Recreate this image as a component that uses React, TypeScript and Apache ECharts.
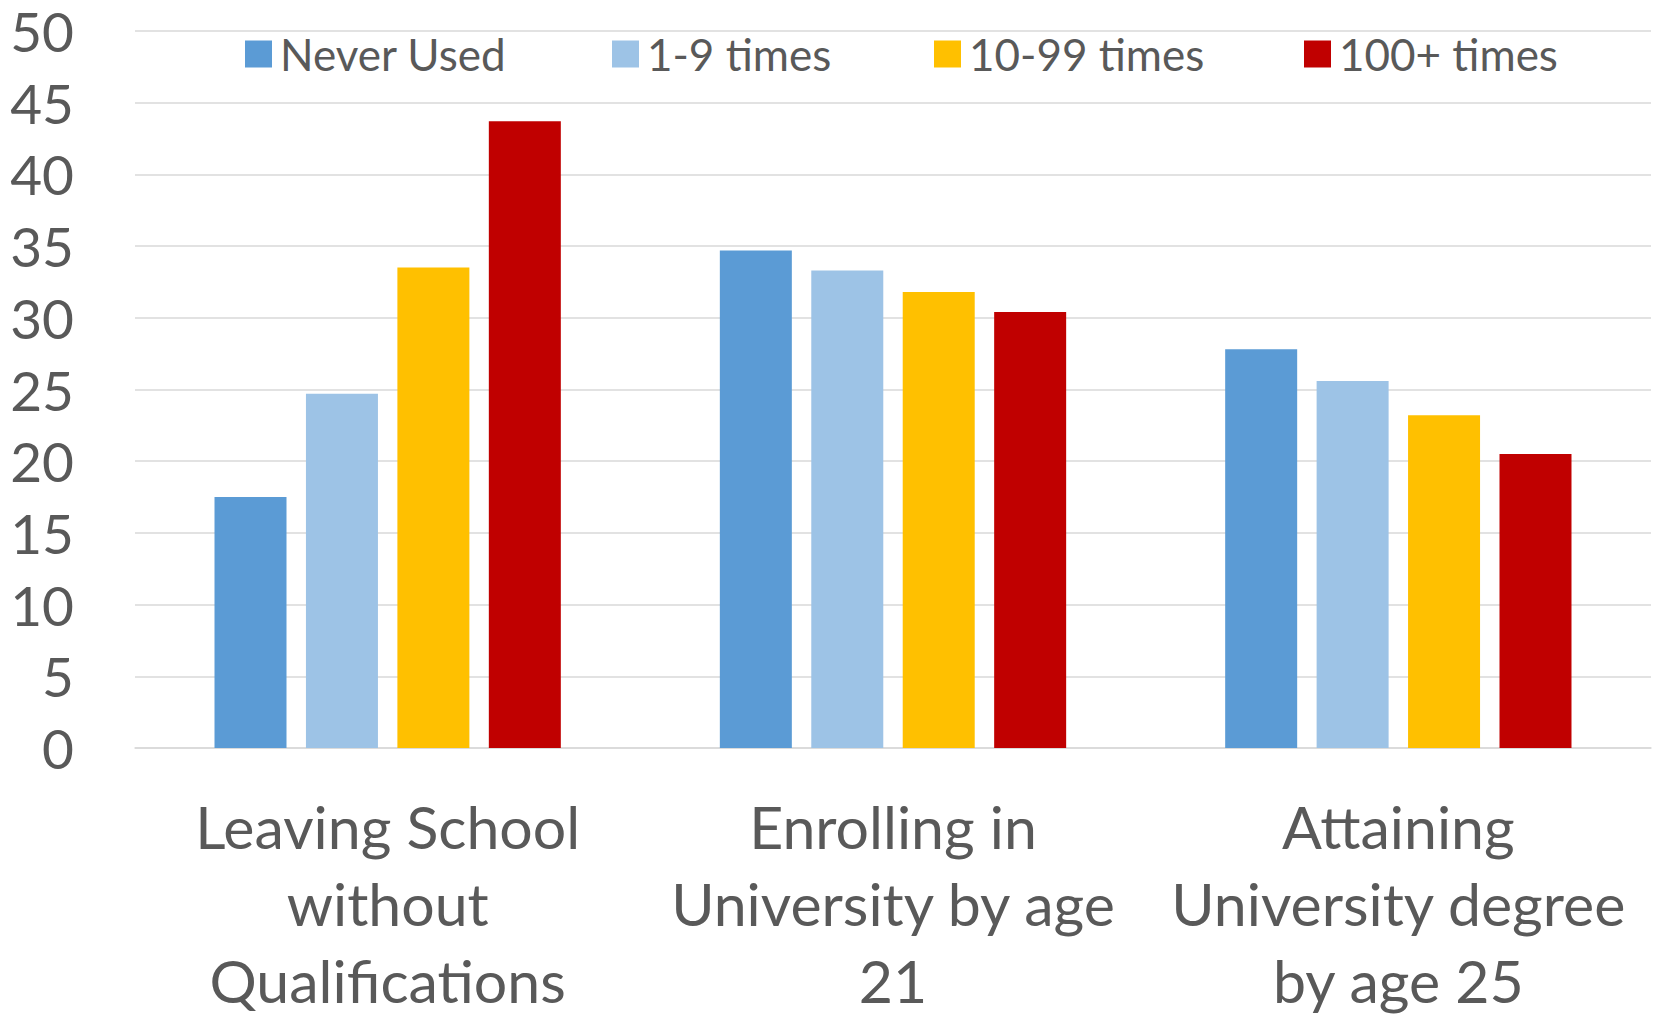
import React, { useEffect, useRef } from "react";
import * as echarts from "echarts";

// Outcome categories (line breaks as laid out under the axis)
const categories = [
  "Leaving School\nwithout\nQualifications",
  "Enrolling in\nUniversity by age\n21",
  "Attaining\nUniversity degree\nby age 25",
];

const seriesNames = ["Never Used", "1-9 times", "10-99 times", "100+ times"];

// Percentages per usage group, one value per outcome
const neverUsed = [17.5, 34.7, 27.8];
const oneToNine = [24.7, 33.3, 25.6];
const tenTo99 = [33.5, 31.8, 23.2];
const hundredPlus = [43.7, 30.4, 20.5];

const yTicks = [0, 5, 10, 15, 20, 25, 30, 35, 40, 45, 50];

const colors = ["#5B9BD5", "#9DC3E6", "#FFC000", "#C00000"];
const textColor = "#595959";
const gridColor = "#D9D9D9";
const font = "Lato, 'Open Sans', sans-serif";

export default function App() {
  const ref = useRef<HTMLDivElement>(null);

  useEffect(() => {
    if (!ref.current) return;
    const chart = echarts.init(ref.current, undefined, { renderer: "svg" });
    const values = [neverUsed, oneToNine, tenTo99, hundredPlus];
    const legendLefts = [240, 607, 929, 1299];

    chart.setOption({
      animation: false,
      backgroundColor: "#FFFFFF",
      textStyle: { fontFamily: font },
      grid: { left: 135, right: 3, top: 31, bottom: 270, containLabel: false },
      legend: seriesNames.map((name, i) => ({
        data: [name],
        left: legendLefts[i],
        top: 24,
        itemWidth: 27,
        itemHeight: 27,
        icon: "rect",
        textStyle: {
          color: textColor,
          fontSize: 44,
          lineHeight: 44,
          fontFamily: font,
          padding: [0, 0, 6, 3],
        },
      })),
      xAxis: {
        type: "category",
        data: categories,
        axisTick: { show: false },
        axisLine: { show: true, lineStyle: { color: gridColor, width: 1.5 } },
        axisLabel: {
          color: textColor,
          fontSize: 59,
          lineHeight: 77,
          fontFamily: font,
          margin: 40,
          interval: 0,
          align: "center",
        },
      },
      yAxis: {
        type: "value",
        min: yTicks[0],
        max: yTicks[yTicks.length - 1],
        interval: 5,
        axisLine: { show: false },
        axisTick: { show: false },
        splitLine: { lineStyle: { color: gridColor, width: 1.5 } },
        axisLabel: {
          color: textColor,
          fontSize: 55,
          lineHeight: 52,
          fontFamily: font,
          margin: 61,
          padding: [0, 0, 2, 0],
        },
      },
      series: seriesNames.map((name, i) => ({
        name,
        type: "bar",
        data: values[i],
        barWidth: 72,
        barGap: "27%",
        itemStyle: { color: colors[i] },
      })),
    });

    return () => chart.dispose();
  }, []);

  return (
    <div
      ref={ref}
      style={{ position: "fixed", left: 0, top: 0, width: 1654, height: 1019 }}
    />
  );
}
